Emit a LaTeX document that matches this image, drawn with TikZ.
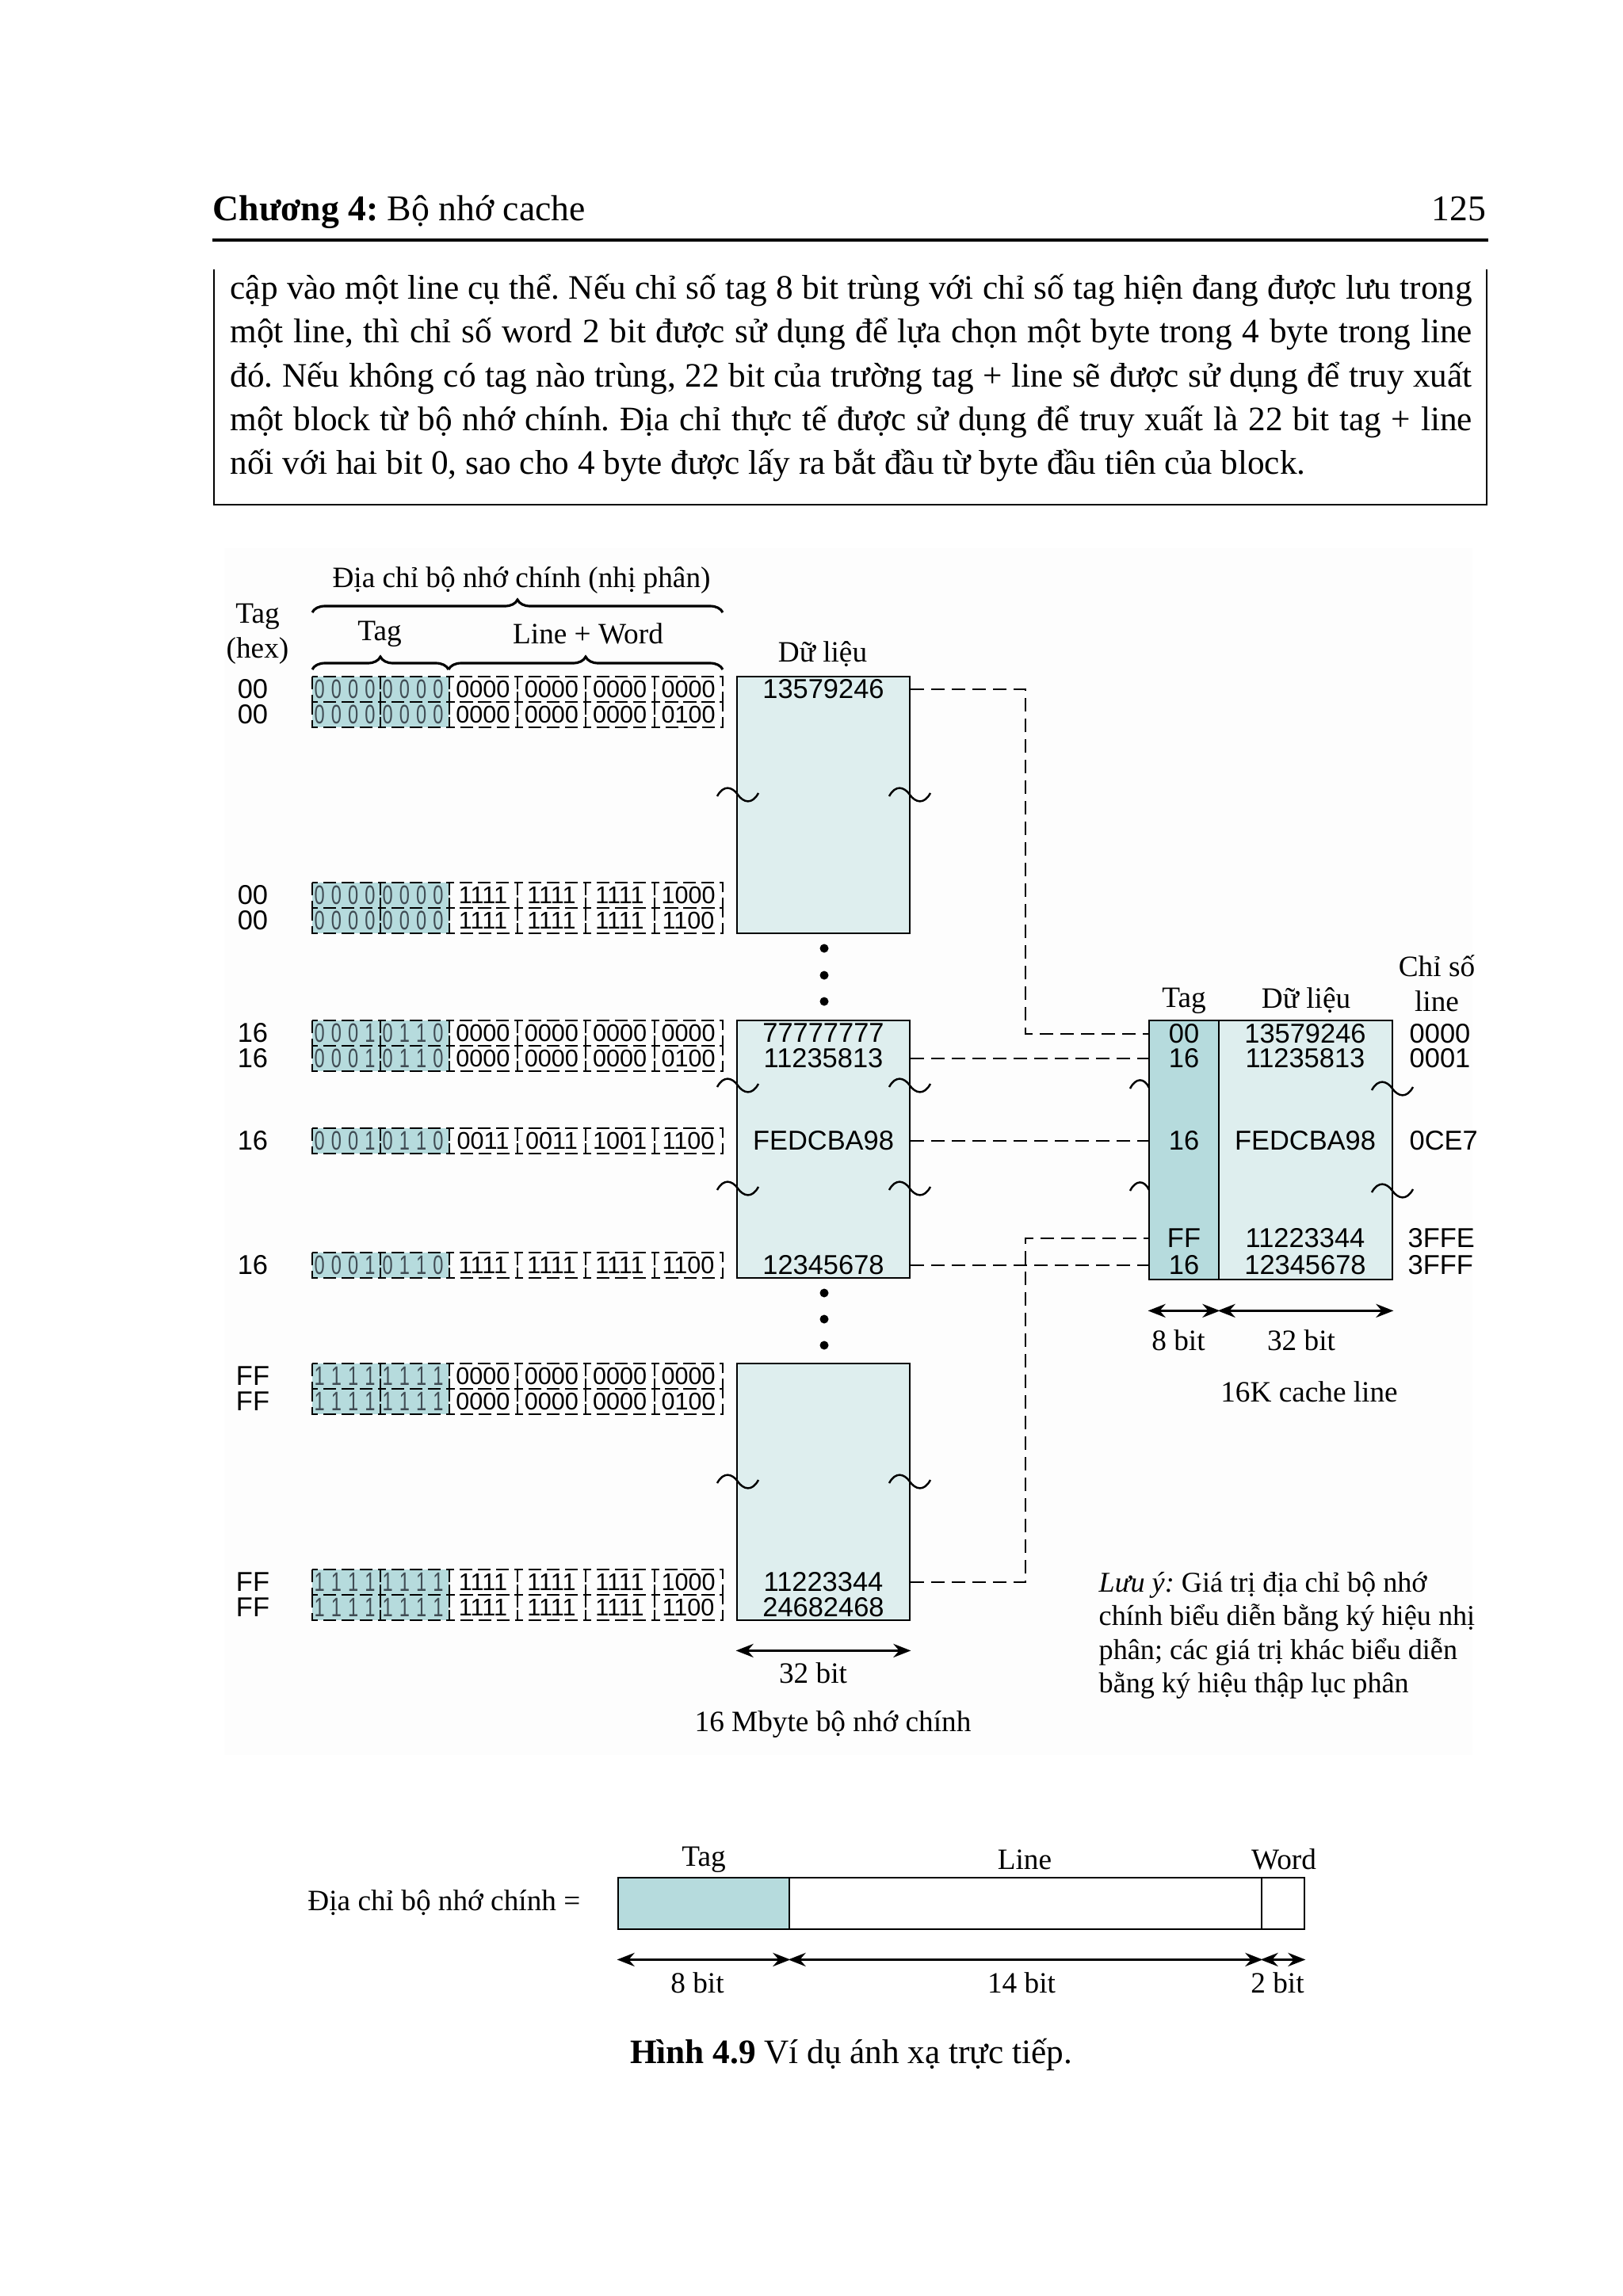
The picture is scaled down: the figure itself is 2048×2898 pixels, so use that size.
\documentclass[tikz,border=0pt]{standalone}
\usepackage{fontspec}
\setmainfont{Liberation Serif}
\newfontfamily\hexfont{Liberation Sans}
\newfontfamily\bitfont[FakeStretch=0.7]{Liberation Sans}
\usetikzlibrary{positioning,arrows.meta,decorations.pathreplacing}
\frenchspacing

\definecolor{datafill}{RGB}{222,238,238}
\definecolor{tagfill}{RGB}{182,219,221}
\definecolor{tagdigit}{RGB}{64,76,84}
\definecolor{figbg}{RGB}{253,253,253}

\newcommand{\spreadbits}[4]{\makebox[7.7mm]{#1\hfill#2\hfill#3\hfill#4}}
% one row of the address table: y, hex tag, tag bits (2 groups), line+word bits (4 groups)
\newcommand{\addrrow}[8]{%
  \fill[tagfill] (394,#1-16) rectangle (566,#1+16);
  \foreach \g in {0,...,5}
    \draw[bitcell] (394+86.33*\g,#1-16) rectangle ++(86.33,32);
  \node[hexval] (hex#1) at (319,#1) {#2};
  \node[tagbit] (tga#1) at (435,#1) {\spreadbits#3};
  \node[tagbit] (tgb#1) at (521,#1) {\spreadbits#4};
  \node[bitval] (lwa#1) at (609.5,#1) {#5};
  \node[bitval] (lwb#1) at (696,#1) {#6};
  \node[bitval] (lwc#1) at (782,#1) {#7};
  \node[bitval] (lwd#1) at (868.5,#1) {#8};
}

\begin{document}
\begin{tikzpicture}[x=0.1mm, y=-0.1mm,
    hexval/.style={font=\hexfont\fontsize{9.8}{11}\selectfont, inner sep=0pt},
    bitval/.style={font=\hexfont\fontsize{8.7}{9}\selectfont, inner sep=0pt},
    tagbit/.style={font=\bitfont\fontsize{9.6}{10}\selectfont, text=tagdigit, inner sep=0pt},
    lbl/.style={font=\fontsize{10.6}{12.6}\selectfont, inner sep=0pt, align=center},
    body/.style={font=\fontsize{12.3}{14}\selectfont, inner sep=0pt, anchor=base west},
    membox/.style={draw, fill=datafill, line width=0.8pt, minimum width=21.8mm, inner sep=0pt},
    bitcell/.style={line width=0.55pt, dash pattern=on 1.6mm off 0.7mm},
    link/.style={line width=0.6pt, dash pattern=on 1.7mm off 0.9mm},
    sizearrow/.style={{Stealth[length=2.2mm,width=1.7mm]}-{Stealth[length=2.2mm,width=1.7mm]}, line width=1pt},
    blackdot/.style={circle, fill, inner sep=0pt, minimum size=1.1mm},
    brc/.style={decorate, decoration={brace, amplitude=1.6mm}, line width=0.9pt},
    squiggle/.pic={\draw[line width=0.7pt] (-2.6mm,-0.2mm) .. controls (-1.8mm,1.3mm) and (-0.7mm,1.0mm) .. (0,0) .. controls (0.7mm,-1.0mm) and (1.8mm,-1.3mm) .. (2.6mm,0.2mm);},
    halfsquig/.pic={\draw[line width=0.7pt] (-2.4mm,-0.4mm) .. controls (-1.7mm,1.0mm) and (-0.6mm,1.0mm) .. (0,-0.3mm);}
  ]
  \useasboundingbox (0,0) rectangle (2048,2898);
  \fill[white] (0,0) rectangle (2048,2898);

  % page head and text box
  \node[anchor=base west, inner sep=0pt, font=\fontsize{13}{15}\selectfont] (chap) at (268,278) {\textbf{Chương 4:} Bộ nhớ cache};
  \node[anchor=base east, inner sep=0pt, font=\fontsize{13}{15}\selectfont] (pg) at (1876,278) {125};
  \draw[line width=1.1pt] (268,303) -- (1878,303);
  \draw[line width=0.6pt] (270,340) -- (270,637) -- (1876,637) -- (1876,340);
  \node[body] (p1) at (290,377) {\makebox[156.7mm][s]{cập vào một line cụ thể. Nếu chỉ số tag 8 bit trùng với chỉ số tag hiện đang được lưu trong}};
  \node[body] (p2) at (290,432) {\makebox[156.7mm][s]{một line, thì chỉ số word 2 bit được sử dụng để lựa chọn một byte trong 4 byte trong line}};
  \node[body] (p3) at (290,488) {\makebox[156.7mm][s]{đó. Nếu không có tag nào trùng, 22 bit của trường tag + line sẽ được sử dụng để truy xuất}};
  \node[body] (p4) at (290,543) {\makebox[156.7mm][s]{một block từ bộ nhớ chính. Địa chỉ thực tế được sử dụng để truy xuất là 22 bit tag + line}};
  \node[body] (p5) at (290,598) {nối với hai bit 0, sao cho 4 byte được lấy ra bắt đầu từ byte đầu tiên của block.};

  \fill[figbg] (283,692) rectangle (1858,2215);

  % address headings
  \node[lbl] (addrtitle) at (658,732) {Địa chỉ bộ nhớ chính (nhị phân)};
  \draw[brc] (394,773) -- (912,773);
  \node[lbl] (hextag) at (325,800) {Tag\\(hex)};
  \node[lbl] (tagtitle) at (479,800) {Tag};
  \node[lbl] (lwtitle) at (742,800) {Line + Word};
  \draw[brc] (394,845) -- (566,845);
  \draw[brc] (566,845) -- (912,845);

  % main memory
  \node[lbl] (datatitle) at (1038,826) {Dữ liệu};
  \node[membox, minimum height=32.4mm] (mem1) at (1039,1016) {};
  \node[membox, minimum height=32.5mm] (mem2) at (1039,1450.5) {};
  \node[membox, minimum height=32.4mm] (mem3) at (1039,1883) {};
  \node[hexval] (d1) at (1039,870) {13579246};
  \node[hexval] (d2) at (1039,1304) {77777777};
  \node[hexval] (d3) at (1039,1336) {11235813};
  \node[hexval] (d4) at (1039,1440) {FEDCBA98};
  \node[hexval] (d5) at (1039,1597) {12345678};
  \node[hexval] (d6) at (1039,1997) {11223344};
  \node[hexval] (d7) at (1039,2029) {24682468};
  \foreach \y in {1197,1231,1264,1632,1665,1698}
    \node[blackdot] at (1040,\y) {};
  \foreach \y in {1003,1370,1500,1870} {
    \pic at (931,\y) {squiggle};
    \pic at (1148,\y) {squiggle};
  }

  \addrrow{870}{00}{0000}{0000}{0000}{0000}{0000}{0000}
  \addrrow{902}{00}{0000}{0000}{0000}{0000}{0000}{0100}
  \addrrow{1130}{00}{0000}{0000}{1111}{1111}{1111}{1000}
  \addrrow{1162}{00}{0000}{0000}{1111}{1111}{1111}{1100}
  \addrrow{1304}{16}{0001}{0110}{0000}{0000}{0000}{0000}
  \addrrow{1336}{16}{0001}{0110}{0000}{0000}{0000}{0100}
  \addrrow{1440}{16}{0001}{0110}{0011}{0011}{1001}{1100}
  \addrrow{1597}{16}{0001}{0110}{1111}{1111}{1111}{1100}
  \addrrow{1737}{FF}{1111}{1111}{0000}{0000}{0000}{0000}
  \addrrow{1769}{FF}{1111}{1111}{0000}{0000}{0000}{0100}
  \addrrow{1997}{FF}{1111}{1111}{1111}{1111}{1111}{1000}
  \addrrow{2029}{FF}{1111}{1111}{1111}{1111}{1111}{1100}

  \draw[sizearrow] ([yshift=-3.7mm]mem3.south west) -- ([yshift=-3.7mm]mem3.south east);
  \node[lbl] (membits) at (1026,2112) {32 bit};
  \node[lbl] (memname) at (1051,2177) {16 Mbyte bộ nhớ chính};

  % cache
  \node[draw, fill=tagfill, line width=0.8pt, minimum width=8.8mm, minimum height=32.7mm, inner sep=0pt] (ctag) at (1494,1451.5) {};
  \node[draw, fill=datafill, line width=0.8pt, minimum width=21.9mm, minimum height=32.7mm, inner sep=0pt] (cdata) at (1647.5,1451.5) {};
  \node[lbl] (ctagtitle) at (1494,1263) {Tag};
  \node[lbl] (cdatatitle) at (1648,1263) {Dữ liệu};
  \node[lbl] (idxtitle) at (1813,1241) {Chỉ số\\line};
  \node[hexval] (c1) at (1494,1305) {00};
  \node[hexval] (c2) at (1494,1336) {16};
  \node[hexval] (c3) at (1494,1440) {16};
  \node[hexval] (c4) at (1494,1563) {FF};
  \node[hexval] (c5) at (1494,1597) {16};
  \node[hexval] (e1) at (1647,1305) {13579246};
  \node[hexval] (e2) at (1647,1336) {11235813};
  \node[hexval] (e3) at (1647,1440) {FEDCBA98};
  \node[hexval] (e4) at (1647,1563) {11223344};
  \node[hexval] (e5) at (1647,1597) {12345678};
  \node[hexval, anchor=west] (i1) at (1778,1305) {0000};
  \node[hexval, anchor=west] (i2) at (1778,1336) {0001};
  \node[hexval, anchor=west] (i3) at (1778,1440) {0CE7};
  \node[hexval, anchor=west] (i4) at (1776,1563) {3FFE};
  \node[hexval, anchor=west] (i5) at (1776,1597) {3FFF};
  \foreach \y in {1370,1499}
    \pic at (1450,\y) {halfsquig};
  \foreach \y in {1374,1503}
    \pic at (1757,\y) {squiggle};
  \draw[sizearrow] ([yshift=-3.8mm]ctag.south west) -- ([yshift=-3.8mm]ctag.south east);
  \draw[sizearrow] ([yshift=-3.8mm]cdata.south west) -- ([yshift=-3.8mm]cdata.south east);
  \node[lbl] (ctagbits) at (1487,1692) {8 bit};
  \node[lbl] (cdatabits) at (1642,1692) {32 bit};
  \node[lbl] (cname) at (1652,1757) {16K cache line};

  % mapping links
  \coordinate (jog) at (1294,0);
  \draw[link] (d1 -| mem1.east) -- (d1 -| jog) |- (c1 -| ctag.west);
  \draw[link] (d3 -| mem2.east) -- (d3 -| ctag.west);
  \draw[link] (d4 -| mem2.east) -- (d4 -| ctag.west);
  \draw[link] (d5 -| mem2.east) -- (d5 -| ctag.west);
  \draw[link] (d6 -| mem3.east) -- (d6 -| jog) |- (c4 -| ctag.west);

  % note
  \node[body, font=\fontsize{10.3}{12}\selectfont] (n1) at (1386,2009) {\textit{Lưu ý:} Giá trị địa chỉ bộ nhớ};
  \node[body, font=\fontsize{10.3}{12}\selectfont] (n2) at (1386,2051) {chính biểu diễn bằng ký hiệu nhị};
  \node[body, font=\fontsize{10.3}{12}\selectfont] (n3) at (1386,2094) {phân; các giá trị khác biểu diễn};
  \node[body, font=\fontsize{10.3}{12}\selectfont] (n4) at (1386,2136) {bằng ký hiệu thập lục phân};

  % address format
  \node[draw, fill=tagfill, line width=0.8pt, minimum width=21.6mm, minimum height=6.5mm, inner sep=0pt] (ftag) at (888,2402.5) {};
  \node[draw, line width=0.8pt, minimum width=59.6mm, minimum height=6.5mm, inner sep=0pt] (fline) at (1294,2402.5) {};
  \node[draw, line width=0.8pt, minimum width=5.4mm, minimum height=6.5mm, inner sep=0pt] (fword) at (1619,2402.5) {};
  \node[lbl, anchor=east] (fname) at (733,2402) {Địa chỉ bộ nhớ chính =};
  \node[lbl] (ftagtitle) at (888,2347) {Tag};
  \node[lbl] (flinetitle) at (1293,2347) {Line};
  \node[lbl] (fwordtitle) at (1620,2347) {Word};
  \draw[sizearrow] ([yshift=-3.7mm]ftag.south west) -- ([yshift=-3.7mm]ftag.south east);
  \draw[sizearrow] ([yshift=-3.7mm]fline.south west) -- ([yshift=-3.7mm]fline.south east);
  \draw[sizearrow] ([yshift=-3.7mm]fword.south west) -- ([yshift=-3.7mm]fword.south east);
  \node[lbl] (ftagbits) at (880,2503) {8 bit};
  \node[lbl] (flinebits) at (1289,2503) {14 bit};
  \node[lbl] (fwordbits) at (1612,2503) {2 bit};

  \node[font=\fontsize{12.3}{14}\selectfont, inner sep=0pt] (caption) at (1074,2593) {\textbf{Hình 4.9} Ví dụ ánh xạ trực tiếp.};
\end{tikzpicture}
\end{document}
